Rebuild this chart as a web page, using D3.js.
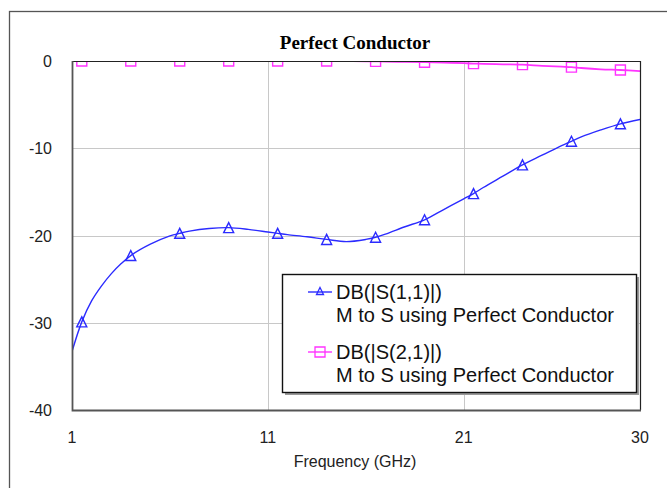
<!DOCTYPE html>
<html>
<head>
<meta charset="utf-8">
<script src="https://cdn.jsdelivr.net/npm/d3@7"></script>
<style>
    html, body { margin: 0; padding: 0; background: #fff; }
    #chart { width: 667px; height: 488px; }
    text { font-family: "Liberation Sans", Arial, sans-serif; }
</style>
</head>
<body>
<div id="chart"></div>
<script>
// frequency samples (GHz) and the two traces (dB)
const freqGHz = [1, 1.5, 2, 2.5, 3, 3.5, 4, 5, 6, 6.5, 7, 8, 9, 10, 11, 11.5, 12, 13, 14, 15,
                 16, 16.5, 17, 18, 19, 20, 21, 21.5, 22, 23, 24, 25, 26, 26.5, 27, 28, 29, 30];
const s11dB   = [-33.3, -29.9, -27.5, -25.8, -24.4, -23.25, -22.3, -21.0, -20.05, -19.75, -19.5, -19.2, -19.1, -19.3, -19.6, -19.75, -19.9, -20.15, -20.45, -20.7,
                 -20.45, -20.2, -19.85, -19.0, -18.2, -17.0, -15.8, -15.2, -14.5, -13.2, -11.9, -10.8, -9.7, -9.2, -8.7, -7.9, -7.2, -6.7];
const s21dB   = [0, 0, 0, 0, 0, 0, 0, 0, 0, 0, 0, 0, 0, 0, 0, 0, 0, 0, 0, 0,
                 -0.03, -0.04, -0.06, -0.1, -0.14, -0.18, -0.25, -0.3, -0.33, -0.38, -0.42, -0.55, -0.65, -0.7, -0.8, -0.95, -1.03, -1.15];
const markerFreqs = [1.5, 4, 6.5, 9, 11.5, 14, 16.5, 19, 21.5, 24, 26.5, 29];

const xTicks = [1, 11, 21, 30];
const yTicks = [0, -10, -20, -30, -40];
const xDomain = [1, 30];
const yDomain = [-40, 0];

const TITLE  = 'Perfect Conductor';
const XLABEL = 'Frequency (GHz)';
const SERIES = [
    { name: 'DB(|S(1,1)|)', sub: 'M to S using Perfect Conductor', values: s11dB, color: '#2b2bff', marker: 'tri' },
    { name: 'DB(|S(2,1)|)', sub: 'M to S using Perfect Conductor', values: s21dB, color: '#ff33ff', marker: 'sq' }
];

const PLOT = { left: 72, top: 61, right: 640, bottom: 410 };

const svg = d3.select('#chart').append('svg')
    .attr('width', 667)
    .attr('height', 488);

// outer frame (runs off the right/bottom edge like the screenshot)
svg.append('rect')
    .attr('x', 9.5).attr('y', 11.5)
    .attr('width', 700).attr('height', 520)
    .attr('fill', '#fff').attr('stroke', '#555').attr('stroke-width', 1.3);

const x = d3.scaleLinear().domain(xDomain).range([PLOT.left, PLOT.right]);
const y = d3.scaleLinear().domain(yDomain).range([PLOT.bottom, PLOT.top]);

svg.append('defs').append('clipPath').attr('id', 'plot-clip')
    .append('rect')
    .attr('x', PLOT.left).attr('y', PLOT.top)
    .attr('width', PLOT.right - PLOT.left).attr('height', PLOT.bottom - PLOT.top);

drawGrid();
drawSeries();
drawFrame();
drawAxes();
drawLegend();

function drawGrid() {
    const g = svg.append('g').attr('stroke', '#c8c8c8').attr('stroke-width', 1);
    xTicks.slice(1, -1).forEach(t => {
        g.append('line')
            .attr('x1', Math.round(x(t)) + 0.5).attr('x2', Math.round(x(t)) + 0.5)
            .attr('y1', PLOT.top).attr('y2', PLOT.bottom);
    });
    yTicks.slice(1, -1).forEach(t => {
        g.append('line')
            .attr('x1', PLOT.left).attr('x2', PLOT.right)
            .attr('y1', Math.round(y(t)) + 0.5).attr('y2', Math.round(y(t)) + 0.5);
    });
}

function markerPath(type, s) {
    if (type === 'tri') return `M0,${-s} L${s},${s} L${-s},${s} Z`;
    return `M${-s},${-s} H${s} V${s} H${-s} Z`;
}

function drawSeries() {
    const g = svg.append('g').attr('clip-path', 'url(#plot-clip)');
    const line = d3.line()
        .x(d => x(d[0]))
        .y(d => y(d[1]))
        .curve(d3.curveCatmullRom.alpha(0.5));

    SERIES.forEach(s => {
        const pts = freqGHz.map((f, i) => [f, s.values[i]]);
        g.append('path')
            .attr('d', line(pts))
            .attr('fill', 'none')
            .attr('stroke', s.color)
            .attr('stroke-width', s.marker === 'sq' ? 1.8 : 1.4);

        const marks = pts.filter(p => markerFreqs.includes(p[0]));
        g.selectAll(null).data(marks).enter().append('path')
            .attr('transform', d => `translate(${x(d[0])},${y(d[1])})`)
            .attr('d', markerPath(s.marker, 5))
            .attr('fill', 'none')
            .attr('stroke', s.color)
            .attr('stroke-width', 1.4);
    });
}

function drawFrame() {
    // top & right edges dark, left & bottom axes grey and heavier
    svg.append('path')
        .attr('d', `M${PLOT.left},${PLOT.top + 0.5} H${PLOT.right + 0.5} V${PLOT.bottom}`)
        .attr('fill', 'none').attr('stroke', '#222').attr('stroke-width', 1.2);
    svg.append('path')
        .attr('d', `M${PLOT.left + 0.5},${PLOT.top} V${PLOT.bottom + 0.5} H${PLOT.right + 1}`)
        .attr('fill', 'none').attr('stroke', '#555').attr('stroke-width', 1.8);
}

function drawAxes() {
    svg.append('text')
        .attr('x', 355).attr('y', 49)
        .attr('text-anchor', 'middle')
        .style('font-family', '"Liberation Serif", "Times New Roman", serif')
        .style('font-weight', 'bold').style('font-size', '19px')
        .attr('fill', '#000')
        .text(TITLE);

    svg.append('g').selectAll('text').data(yTicks).enter().append('text')
        .attr('x', 52).attr('y', d => y(d) + 6)
        .attr('text-anchor', 'end')
        .style('font-size', '16px').attr('fill', '#222')
        .text(d => d);

    svg.append('g').selectAll('text').data(xTicks).enter().append('text')
        .attr('x', d => x(d)).attr('y', 443)
        .attr('text-anchor', 'middle')
        .style('font-size', '16px').attr('fill', '#222')
        .text(d => d);

    svg.append('text')
        .attr('x', 355).attr('y', 467)
        .attr('text-anchor', 'middle')
        .style('font-size', '16px').attr('fill', '#222')
        .text(XLABEL);
}

function drawLegend() {
    const L = { x: 282, y: 274, w: 354, h: 118 };
    svg.append('rect')
        .attr('x', L.x + 3).attr('y', L.y + 3).attr('width', L.w).attr('height', L.h)
        .attr('fill', '#999');
    svg.append('rect')
        .attr('x', L.x + 0.5).attr('y', L.y + 0.5).attr('width', L.w).attr('height', L.h)
        .attr('fill', '#fff').attr('stroke', '#111').attr('stroke-width', 1.4);

    SERIES.forEach((s, i) => {
        const cy = 292 + i * 60;
        const lg = svg.append('g');
        lg.append('line')
            .attr('x1', 308).attr('x2', 332).attr('y1', cy).attr('y2', cy)
            .attr('stroke', s.color).attr('stroke-width', 1.4);
        lg.append('path')
            .attr('transform', `translate(320,${cy - (s.marker === 'tri' ? 1 : 0)})`)
            .attr('d', markerPath(s.marker, s.marker === 'tri' ? 3.5 : 5))
            .attr('fill', 'none').attr('stroke', s.color).attr('stroke-width', 1.3);
        lg.append('text')
            .attr('x', 336).attr('y', cy + 7)
            .style('font-size', '20px').attr('fill', '#111')
            .text(s.name);
        lg.append('text')
            .attr('x', 336).attr('y', cy + 30)
            .style('font-size', '20px').attr('fill', '#111')
            .text(s.sub);
    });
}
</script>
</body>
</html>
